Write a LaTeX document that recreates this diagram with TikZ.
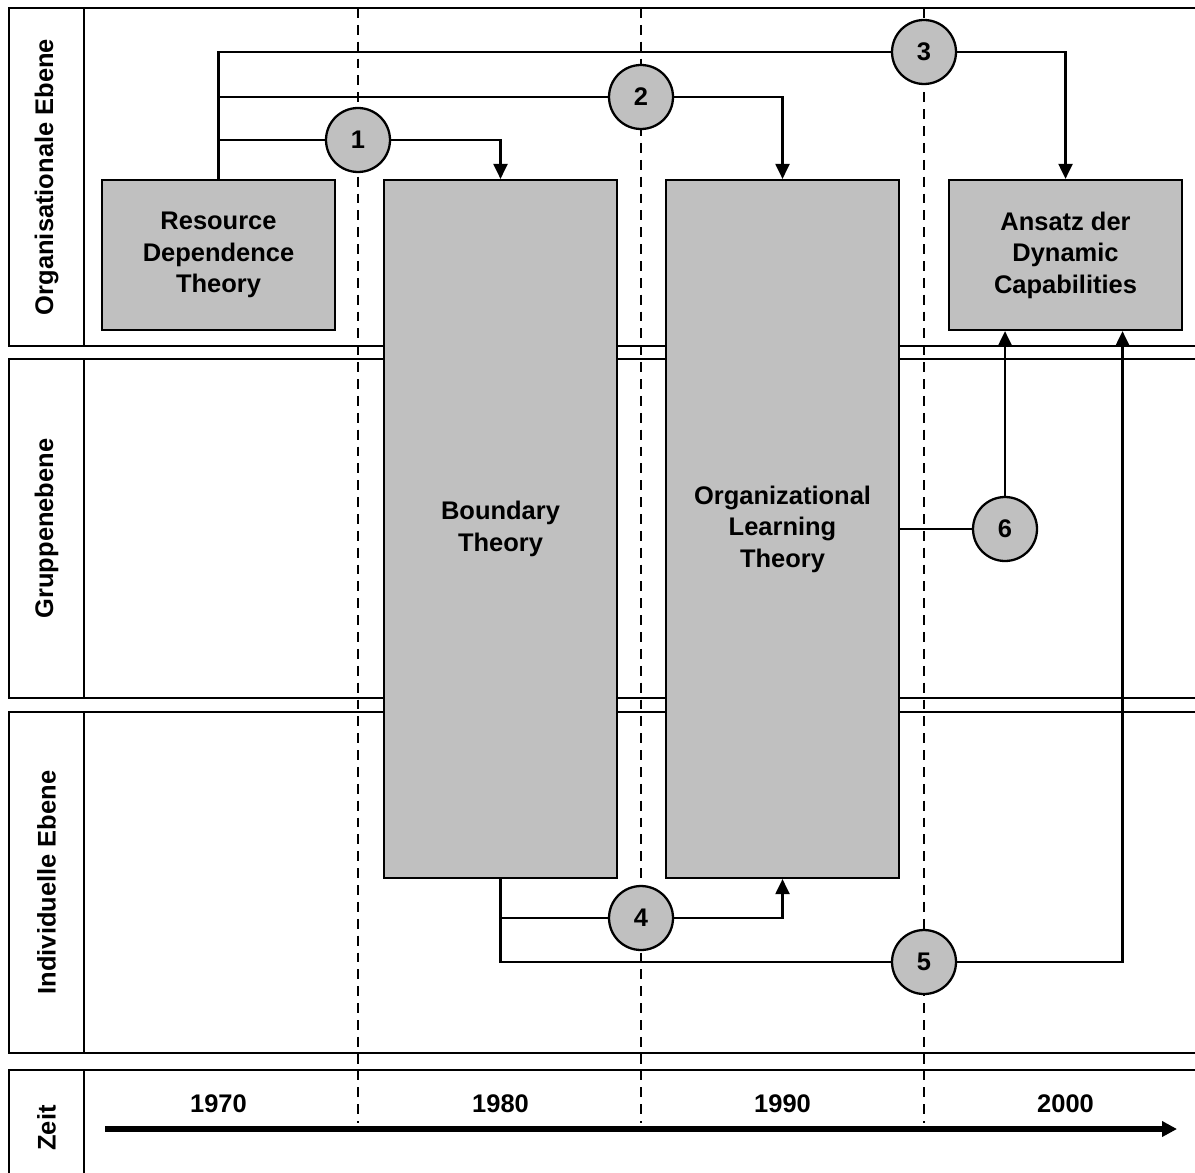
\documentclass[tikz,border=0pt]{standalone}
\usepackage{fontspec}
\setmainfont{Liberation Sans}
\usetikzlibrary{calc,positioning,arrows.meta}
\definecolor{boxgray}{HTML}{C0C0C0}
\pgfdeclarelayer{background}
\pgfsetlayers{background,main}
\tikzset{
    >={Triangle[length=0.3cm,width=0.28cm]},
    theorie/.style={
        rectangle,
        draw=black,
        line width=1.3pt,
        fill=boxgray,
        minimum width=4.66cm,
        align=center
    },
    nummer/.style={
        circle,
        draw=black,
        line width=1.3pt,
        fill=boxgray,
        minimum size=1.28cm,
        inner sep=0pt
    },
    ebene/.style={rotate=90, align=center},
    jahr/.style={align=center},
    line/.style={draw, line width=1.2pt},
    grenze/.style={draw, line width=1.3pt},
    zeitlinie/.style={draw, line width=1.2pt, dash pattern=on 5.6pt off 4pt},
    zeitpfeil/.style={draw, line width=3.4pt, -{Triangle[length=0.3cm,width=0.3cm]}},
    font={\fontsize{14.5pt}{17.9pt}\selectfont\bfseries},
}

\begin{document}
\begin{tikzpicture}[x=0.02cm,y=-0.02cm]
\useasboundingbox (0,0) rectangle (1195,1172);
\clip (0,0) rectangle (1195,1172);

% Theorien
\node[theorie, minimum height=3cm] (rdt) at (218.5,255) {Resource\\Dependence\\Theory};
\node[theorie, minimum height=13.96cm] (bt) at (500.5,529) {Boundary\\Theory};
\node[theorie, minimum height=13.96cm] (olt) at (782.5,529) {Organizational\\Learning\\Theory};
\node[theorie, minimum height=3cm] (dc) at (1065.5,255) {Ansatz der\\Dynamic\\Capabilities};

% Nummern
\node[nummer] (c1) at (358,140) {1};
\node[nummer] (c2) at (641,97) {2};
\node[nummer] (c3) at (924,52) {3};
\node[nummer] (c4) at (641,918) {4};
\node[nummer] (c5) at (924,962) {5};
\node[nummer] (c6) at (1005,529) {6};

% Ebenen
\node[ebene] (org) at (46.5,177) {Organisationale Ebene};
\node[ebene] (grp) at (46.5,528.5) {Gruppenebene};
\node[ebene] (ind) at (46.5,882.5) {Individuelle Ebene};
\node[ebene] (zeit) at (46.5,1128) {Zeit};

% Jahre
\node[jahr] (j1970) at (218.5,1104) {1970};
\node[jahr] (j1980) at (500.5,1104) {1980};
\node[jahr] (j1990) at (782.5,1104) {1990};
\node[jahr] (j2000) at (1065.5,1104) {2000};

\coordinate (t0) at (105,1129);
\coordinate (t1) at (1177,1129);
\draw[zeitpfeil] (t0) -- (t1);

% Verbindungen
\draw[line] (rdt.north) |- (c1);
\draw[line,->] (c1) -| (bt.north);
\draw[line] (rdt.north) |- (c2);
\draw[line,->] (c2) -| (olt.north);
\draw[line] (rdt.north) |- (c3);
\draw[line,->] (c3) -| (dc.north);
\draw[line] (bt.south) |- (c4);
\draw[line,->] (c4) -| (olt.south);
\coordinate (dc5) at ($(dc.south)+(57,0)$);
\draw[line] (bt.south) |- (c5);
\draw[line,->] (c5) -| (dc5);
\draw[line] (olt.east) -- (c6);
\draw[line,->] (c6) -- (c6 |- dc.south);

\begin{pgfonlayer}{background}
\foreach \oben/\unten in {8/346,359/698,712/1053,1070/1220} {
    \draw[grenze] (9,\oben) rectangle (1220,\unten);
    \draw[grenze] (84,\oben) -- (84,\unten);
}
\foreach \x in {358,641,924}
    \draw[zeitlinie] (\x,8) -- (\x,1123);
\end{pgfonlayer}
\end{tikzpicture}
\end{document}
